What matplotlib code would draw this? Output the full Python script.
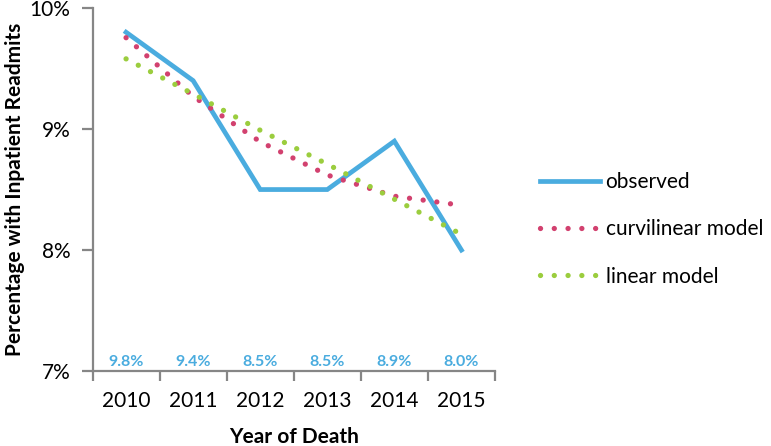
import matplotlib
matplotlib.use("Agg")
import matplotlib.pyplot as plt
import numpy as np

years = ["2010", "2011", "2012", "2013", "2014", "2015"]
observed = [9.8, 9.4, 8.5, 8.5, 8.9, 8.0]
curvilinear = [9.755, 9.27, 8.895, 8.62, 8.445, 8.37]
linear = [9.58, 9.29, 8.99, 8.71, 8.42, 8.13]
obs_labels = ["9.8%", "9.4%", "8.5%", "8.5%", "8.9%", "8.0%"]
yticks = [7, 8, 9, 10]

plt.rcParams['font.family'] = ['Lato', 'DejaVu Sans']

fig = plt.figure(figsize=(7.71, 4.46), dpi=100)
ax = fig.add_axes([0.120, 0.168, 0.522, 0.814])

x = np.arange(len(years))
dot = (0, (0.01, 2.6))
ax.plot(x, observed, color='#4aacdf', lw=3.4, solid_joinstyle='miter', label='observed', zorder=3)
ax.plot(x, curvilinear, color='#d2416f', lw=3.8, ls=dot, dash_capstyle='round', label='curvilinear model', zorder=4)
ax.plot(x, linear, color='#9bcd3e', lw=3.8, ls=dot, dash_capstyle='round', label='linear model', zorder=4)

# data labels sit along the bottom of the plot
for i, t in enumerate(obs_labels):
    ax.text(x[i], 7.015, t, color='#4aacdf', fontsize=11.5, fontweight='bold',
            ha='center', va='bottom')

ax.set_xlim(-0.5, 5.5)
ax.set_ylim(7, 10)
ax.set_yticks(yticks)
ax.set_yticklabels([f"{v}%" for v in yticks], fontsize=15)
ax.set_xticks(x)
ax.set_xticklabels(years, fontsize=15)
ax.set_xticks(np.arange(-0.5, 6, 1), minor=True)
ax.tick_params(axis='x', which='major', length=0, pad=14)
ax.tick_params(axis='x', which='minor', length=7, width=1.6, color='#868686', direction='out')
ax.tick_params(axis='y', length=8, width=1.6, color='#868686', direction='out', pad=8)

for s in ['top', 'right']:
    ax.spines[s].set_visible(False)
for s in ['left', 'bottom']:
    ax.spines[s].set_color('#868686')
    ax.spines[s].set_linewidth(1.6)

ax.set_xlabel("Year of Death", fontsize=15, fontweight='bold', labelpad=12)
ax.set_ylabel("Percentage with Inpatient Readmits", fontsize=15, fontweight='bold', labelpad=3)

ax.legend(loc='center left', bbox_to_anchor=(1.065, 0.39), frameon=False, fontsize=15,
          handlelength=2.9, handletextpad=0.25, labelspacing=1.3)

fig.savefig("out.png", dpi=100)
